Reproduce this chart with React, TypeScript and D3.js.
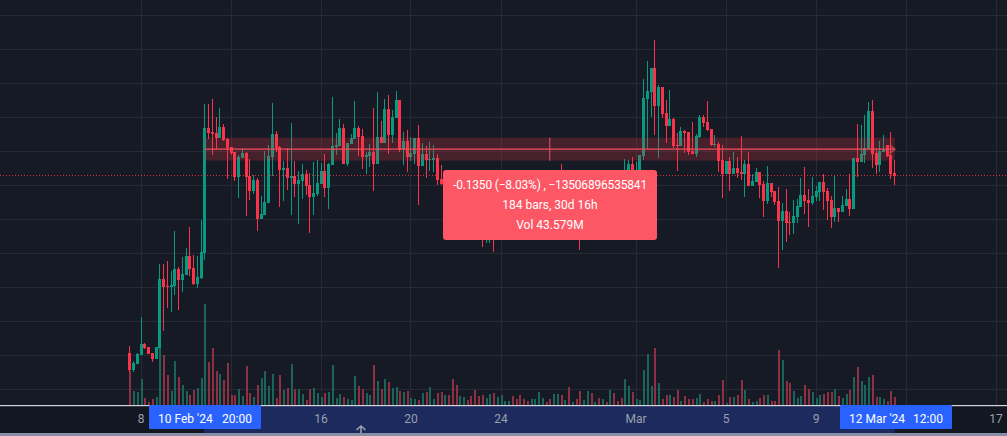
import React from 'react';
import * as d3 from 'd3';

const WIDTH = 1007;
const HEIGHT = 436;
const AXIS_Y = 405;

// price in ticks: one grid step (0.2) is 34 ticks
const TICK = 0.2 / 34;
const BASE_PRICE = 0.1076;

const BAR_MS = 4 * 3600 * 1000;
const FIRST_BAR = Date.UTC(2024, 1, 7, 12);

const openTicks = [
  52,35,41,50,61,58,52,46,57,126,
  119,118,119,136,125,130,149,137,121,127,
  152,277,273,272,267,278,266,258,253,228,
  247,252,229,214,225,186,190,202,248,271,
  258,235,237,227,229,221,224,231,220,208,
  211,221,234,217,240,258,259,277,241,261,
  266,277,269,248,249,253,241,268,262,296,
  270,287,305,255,264,248,251,267,239,251,
  245,245,247,226,219,223,215,205,193,201,
  207,199,191,181,177,171,179,185,175,183,
  189,193,197,191,187,183,179,177,183,189,
  199,205,201,197,207,215,207,213,195,199,
  193,177,183,197,187,191,185,191,187,203,
  193,189,185,215,241,219,229,249,306,313,
  337,299,318,292,279,286,260,259,274,273,
  254,251,268,288,283,276,260,261,245,231,
  244,231,237,233,231,241,219,223,233,221,
  204,222,214,204,184,194,183,182,188,198,
  210,205,202,208,213,223,214,205,188,197,
  193,199,206,196,247,243,250,256,294,252,
  240,253,260,250,232,
];
const closeTicks = [
  35,42,51,61,57,51,46,58,126,118,
  118,120,136,125,131,149,136,121,128,153,
  277,272,271,267,278,265,257,252,228,248,
  252,228,214,225,186,191,203,249,271,257,
  235,237,227,229,221,225,231,219,208,212,
  222,234,217,241,259,260,277,241,262,267,
  277,268,248,250,253,241,268,262,296,270,
  288,305,255,264,248,252,267,239,251,245,
  246,247,225,221,223,215,205,193,201,207,
  199,191,181,177,171,179,185,175,183,189,
  193,197,191,187,183,179,177,183,189,199,
  205,201,197,207,215,207,213,195,199,193,
  177,183,197,187,191,185,191,187,203,193,
  189,185,215,241,219,229,250,307,314,337,
  299,318,291,279,286,259,259,274,272,253,
  251,269,288,282,275,260,261,244,231,244,
  231,237,232,231,241,219,224,233,220,204,
  222,213,203,184,194,182,182,189,199,210,
  204,202,209,214,223,213,204,188,197,193,
  200,206,196,247,243,251,257,294,251,240,
  254,255,249,231,229,
];
const highTicks = [
  59,44,52,88,62,58,52,58,141,141,
  144,134,174,138,148,157,178,150,149,185,
  301,301,306,288,297,281,267,258,253,250,
  257,253,246,230,227,209,254,260,302,274,
  259,244,257,282,244,234,241,235,232,243,
  245,242,251,242,308,272,286,281,262,271,
  304,279,276,253,261,297,313,284,306,310,
  295,314,305,273,275,268,267,280,262,259,
  263,260,251,240,227,225,219,211,207,213,
  209,205,195,187,183,183,189,191,187,195,
  199,201,201,195,193,187,183,187,193,205,
  211,209,205,213,221,241,219,217,205,203,
  199,189,203,201,195,195,197,195,209,207,
  197,193,246,245,248,243,250,326,344,337,
  365,320,318,305,315,287,272,278,275,273,
  283,271,290,290,304,276,270,263,260,244,
  248,253,248,269,245,253,231,237,233,224,
  239,222,214,218,202,216,193,205,206,227,
  238,216,228,219,223,231,217,209,230,197,
  209,216,231,247,281,280,290,303,305,255,
  264,270,260,273,245,
];
const lowTicks = [
  33,33,41,50,56,51,43,46,57,74,
  97,93,110,95,113,130,129,120,117,126,
  145,266,250,256,267,264,226,250,224,207,
  247,189,205,211,174,186,190,202,229,253,
  198,204,215,190,208,181,206,210,172,190,
  209,221,208,196,240,250,259,241,239,261,
  266,249,236,231,238,214,241,262,262,251,
  262,287,253,240,233,244,241,200,239,227,
  234,233,220,220,215,209,197,165,189,197,
  193,183,173,169,158,162,162,153,169,179,
  185,189,185,181,177,173,171,173,179,185,
  195,197,191,193,203,199,203,183,191,185,
  155,173,177,179,183,179,181,183,183,187,
  185,179,181,211,213,215,227,245,256,288,
  270,247,287,262,279,257,234,259,252,250,
  251,248,267,278,274,259,258,233,207,231,
  214,231,227,225,208,219,219,223,207,188,
  201,208,200,137,155,163,170,171,182,198,
  191,178,200,204,204,195,185,177,183,183,
  193,199,189,196,228,243,242,256,237,231,
  233,253,248,226,220,
];
const volumes = [
  34,14,13,26,7,3,6,8,57,50,
  30,14,44,28,20,14,10,15,17,27,
  101,43,57,34,31,25,42,10,10,16,
  9,39,12,8,20,27,34,19,31,7,
  30,15,17,41,16,16,11,5,16,17,
  12,8,12,13,40,7,11,8,6,5,
  29,19,16,12,10,40,24,16,26,23,
  17,18,14,13,14,7,6,5,12,13,
  18,6,12,13,10,10,26,20,9,8,
  5,9,15,9,10,7,11,12,8,10,
  4,4,9,6,10,6,4,6,6,13,
  7,3,6,11,11,10,5,18,3,6,
  14,5,14,12,3,7,6,3,15,12,
  4,7,26,19,13,6,5,35,51,19,
  57,22,6,10,10,8,15,4,9,6,
  6,7,11,3,6,4,4,10,25,2,
  8,8,10,25,15,6,3,4,7,10,
  10,4,4,55,45,24,22,14,7,9,
  20,16,13,7,10,11,13,13,16,9,
  7,11,15,28,38,24,20,28,30,8,
  8,6,4,14,8,
];

const gridPrices = [0.2, 0.4, 0.6, 0.8, 1.0, 1.2, 1.4, 1.6, 1.8, 2.0, 2.2, 2.4];
const gridDates = [
  Date.UTC(2024, 1, 8), Date.UTC(2024, 1, 12), Date.UTC(2024, 1, 16), Date.UTC(2024, 1, 20),
  Date.UTC(2024, 1, 24), Date.UTC(2024, 2, 1), Date.UTC(2024, 2, 5), Date.UTC(2024, 2, 9),
  Date.UTC(2024, 2, 13), Date.UTC(2024, 2, 17),
];
const axisLabels: [number, string][] = [
  [Date.UTC(2024, 1, 8), '8'],
  [Date.UTC(2024, 1, 16), '16'],
  [Date.UTC(2024, 1, 20), '20'],
  [Date.UTC(2024, 1, 24), '24'],
  [Date.UTC(2024, 2, 1), 'Mar'],
  [Date.UTC(2024, 2, 5), '5'],
  [Date.UTC(2024, 2, 9), '9'],
  [Date.UTC(2024, 2, 17), '17'],
];

const rangeStart = Date.UTC(2024, 1, 10, 20);
const rangeEnd = Date.UTC(2024, 2, 12, 12);
const startPrice = 1.68;
const endPrice = 1.545;
const lastPrice = 1.455;
const tooltipLines = ['-0.1350 (\u22128.03%) , \u221213506896535841', '184 bars, 30d 16h', 'Vol 43.579M'];

const UP = '#089981';
const DOWN = '#F9344A';
const UP_VOL = '#1A6459';
const DOWN_VOL = '#8C3042';
const BG = '#161A25';
const GRID = '#262A35';
const FONT = "Roboto, 'Noto Sans', sans-serif";

const toPrice = (t: number) => BASE_PRICE + t * TICK;

const x = d3.scaleUtc().domain([Date.UTC(2024, 1, 8), Date.UTC(2024, 2, 17)]).range([141, 996]);
const y = d3.scaleLinear().domain([BASE_PRICE, toPrice(AXIS_Y)]).range([AXIS_Y, 0]);
const yVol = d3.scaleLinear().domain([0, 101]).range([AXIS_Y, AXIS_Y - 101]);

export default function App() {
  const bars = openTicks.map((o, i) => {
    const open = toPrice(o);
    const close = toPrice(closeTicks[i]);
    return {
      cx: Math.floor(x(FIRST_BAR + i * BAR_MS)),
      open,
      close,
      high: toPrice(highTicks[i]),
      low: toPrice(lowTicks[i]),
      vol: volumes[i],
      up: closeTicks[i] >= o,
    };
  });

  const rx0 = x(rangeStart);
  const rx1 = x(rangeEnd);
  const ry0 = y(startPrice);
  const ry1 = y(endPrice);
  const midY = (ry0 + ry1) / 2;
  const midX = (rx0 + rx1) / 2;
  const lastY = Math.floor(y(lastPrice)) + 0.5;

  return (
    <svg
      width={WIDTH}
      height={HEIGHT}
      viewBox={`0 0 ${WIDTH} ${HEIGHT}`}
      style={{ position: 'absolute', left: 0, top: 0, display: 'block' }}
      fontFamily={FONT}
    >
      <rect width={WIDTH} height={HEIGHT} fill={BG} />

      <g shapeRendering="crispEdges">
        {gridPrices.map(p => (
          <rect key={p} x={0} y={Math.floor(y(p))} width={WIDTH} height={1} fill={GRID} />
        ))}
        {gridDates.map(d => (
          <rect key={d} x={Math.floor(x(d))} y={0} width={1} height={AXIS_Y} fill={GRID} />
        ))}

        {bars.map((b, i) => (
          <rect
            key={i}
            x={b.cx}
            y={yVol(b.vol)}
            width={2}
            height={AXIS_Y - yVol(b.vol)}
            fill={b.up ? UP_VOL : DOWN_VOL}
          />
        ))}

        {bars.map((b, i) => {
          const top = y(Math.max(b.open, b.close));
          const bottom = y(Math.min(b.open, b.close));
          const color = b.up ? UP : DOWN;
          return (
            <g key={i} fill={color}>
              <rect x={b.cx} y={y(b.high)} width={1} height={y(b.low) - y(b.high)} />
              <rect x={b.cx - 1} y={top} width={3} height={Math.max(bottom - top, 1)} />
            </g>
          );
        })}
      </g>

      {/* measured range */}
      <rect x={rx0} y={ry0} width={rx1 - rx0} height={ry1 - ry0} fill="#F23645" fillOpacity={0.22} />
      <line x1={rx0} x2={rx1} y1={midY} y2={midY} stroke="#F2505F" strokeWidth={1.4} />
      <line x1={midX} x2={midX} y1={ry0} y2={ry1} stroke="#F2505F" strokeWidth={1} />
      <path
        d={d3.line()([[rx1 - 5, midY - 4], [rx1, midY], [rx1 - 5, midY + 4]]) as string}
        fill="none"
        stroke="#F2505F"
        strokeWidth={2}
        strokeOpacity={0.55}
      />

      {/* last price */}
      <line
        x1={0}
        x2={WIDTH}
        y1={lastY}
        y2={lastY}
        stroke="#F23645"
        strokeOpacity={0.9}
        strokeWidth={1}
        strokeDasharray="1 2"
      />

      {/* measure tooltip */}
      <rect x={443} y={170} width={214} height={70} rx={3} fill="#FD5766" />
      {tooltipLines.map((t, i) => (
        <text
          key={t}
          x={550}
          y={184.5 + i * 20}
          textAnchor="middle"
          dominantBaseline="central"
          fontSize={12}
          letterSpacing={i === 0 ? -0.18 : 0}
          fill="#FFFFFF"
        >
          {t}
        </text>
      ))}

      {/* time axis */}
      <rect x={0} y={AXIS_Y} width={WIDTH} height={HEIGHT - AXIS_Y} fill="#131722" />
      <rect x={0} y={433} width={WIDTH} height={3} fill="#868FA5" />
      <rect x={rx0 - 1} y={AXIS_Y} width={rx1 - rx0 + 1} height={28} fill="#1C2A5E" />
      <rect x={0} y={AXIS_Y} width={WIDTH} height={1.2} fill="#D1D4DC" />
      {axisLabels.map(([d, t]) => (
        <text
          key={d}
          x={x(d)}
          y={419}
          textAnchor="middle"
          dominantBaseline="central"
          fontSize={12}
          fill="#9BA0AC"
        >
          {t}
        </text>
      ))}
      <rect x={149} y={AXIS_Y} width={112} height={24} rx={1} fill="#2962FF" />
      <text x={158} y={419} dominantBaseline="central" fontSize={12} fill="#FFFFFF">
        10 Feb '24
      </text>
      <text x={222} y={419} dominantBaseline="central" fontSize={12} fill="#FFFFFF">
        20:00
      </text>
      <rect x={840} y={AXIS_Y} width={112} height={24} rx={1} fill="#2962FF" />
      <text x={849} y={419} dominantBaseline="central" fontSize={12} fill="#FFFFFF">
        12 Mar '24
      </text>
      <text x={913} y={419} dominantBaseline="central" fontSize={12} fill="#FFFFFF">
        12:00
      </text>
      <path d="M356.5 430 L361 426 L365.5 430 M361 426.5 V433" fill="none" stroke="#9BA0AC" strokeWidth={1.6} />
    </svg>
  );
}
